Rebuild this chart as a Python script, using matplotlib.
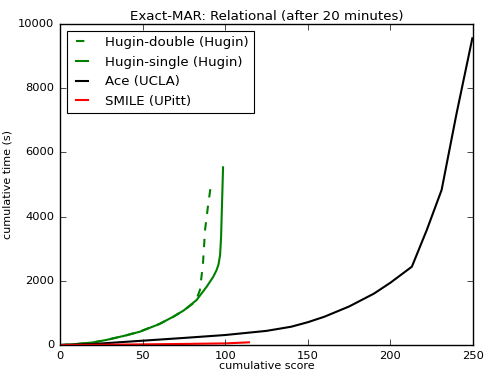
import numpy as np
import matplotlib
matplotlib.use('Agg')
import matplotlib.pyplot as plt

# 读图估计的数据
hugin_double_score = [0, 8, 20, 28, 40, 48, 60, 68.6, 75, 80.7, 83, 84.7, 86.5, 87.8, 89.5, 91.2]
hugin_double_time = [0, 20, 80, 156, 300, 415, 650, 880, 1080, 1300, 1480, 1713, 2500, 3580, 4300, 4930]

hugin_single_score = [0, 8, 20, 28, 40, 48.4, 60, 68.6, 75, 82.7, 88.8, 92.8, 94.8, 95.9, 96.9, 97.5, 97.9, 98.3, 98.7]
hugin_single_time = [0, 20, 80, 156, 300, 415, 650, 882, 1080, 1402, 1817, 2128, 2336, 2500, 2800, 3350, 4100, 4800, 5535]

ace_score = [0, 20, 50, 75, 100, 125, 140, 150, 160, 175, 190, 200, 213, 222, 231, 240, 249.6]
ace_time = [0, 30, 134, 220, 311, 440, 570, 710, 880, 1200, 1600, 1940, 2440, 3580, 4830, 7200, 9555]

smile_score = [0, 25, 50, 75, 100, 114.4]
smile_time = [0, 8, 20, 33, 50, 83]

x_ticks = [0, 50, 100, 150, 200, 250]
y_ticks = [0, 2000, 4000, 6000, 8000, 10000]

plt.style.use('classic')
fig = plt.figure(figsize=(4.85, 3.71), dpi=100)
fig.patch.set_facecolor('white')
ax = fig.add_axes([60 / 485, 26 / 371, 413 / 485, 321 / 371])

ax.plot(hugin_double_score, hugin_double_time, '--', color=(0, 0.5, 0), lw=1.5, label='Hugin-double (Hugin)')
ax.plot(hugin_single_score, hugin_single_time, '-', color=(0, 0.5, 0), lw=1.5, label='Hugin-single (Hugin)')
ax.plot(ace_score, ace_time, '-', color='k', lw=1.5, label='Ace (UCLA)')
ax.plot(smile_score, smile_time, '-', color='r', lw=1.5, label='SMILE (UPitt)')

ax.set_xlim(0, 250)
ax.set_ylim(0, 10000)
ax.set_xticks(x_ticks)
ax.set_yticks(y_ticks)
ax.tick_params(labelsize=8.25, direction='in', top=True, right=True, length=4)
ax.set_xlabel('cumulative score', fontsize=8, labelpad=0)
ax.set_ylabel('cumulative time (s)', fontsize=8, labelpad=4)
ax.set_title('Exact-MAR: Relational (after 20 minutes)', fontsize=9.6, pad=3)

leg = ax.legend(loc='upper left', fontsize=9.6, frameon=True, fancybox=False,
                handlelength=1.5, handletextpad=1.0, borderaxespad=0.5)
leg.get_frame().set_linewidth(0.8)

fig.savefig('out.png', dpi=100, facecolor='white')
